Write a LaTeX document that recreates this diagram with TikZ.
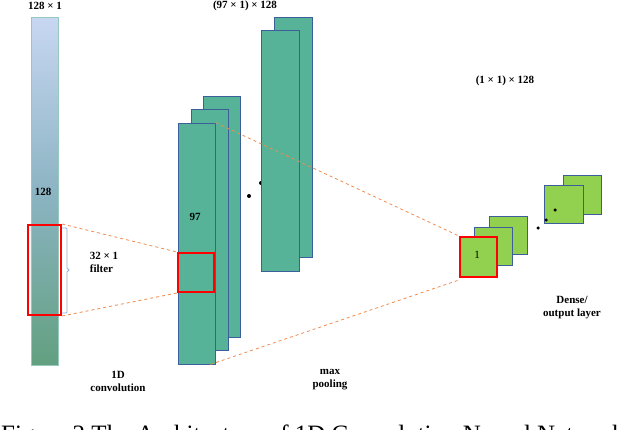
\documentclass[tikz,border=0pt]{standalone}
\usepackage{fontspec}
\setmainfont{Liberation Serif}
\definecolor{mapg}{RGB}{87,179,151}
\definecolor{mapb}{RGB}{60,95,155}
\definecolor{dg}{RGB}{146,208,80}
\definecolor{org}{RGB}{240,140,80}
\definecolor{brc}{RGB}{150,175,220}
\tikzset{
 map/.style={draw=mapb,fill=mapg,line width=0.8pt},
 dsq/.style={draw=mapb,fill=dg,line width=0.8pt},
 red box/.style={draw=red,line width=2pt},
 guide/.style={draw=org,dashed,line width=0.8pt},
 lbl/.style={font=\bfseries\fontsize{11}{13}\selectfont,align=center,inner sep=0pt},
 dotn/.style={circle,fill=black,inner sep=0pt,minimum size=4pt}
}
\begin{document}
\begin{tikzpicture}[x=1pt,y=-1pt]
\clip (0,0) rectangle (640,429);
\fill[white] (0,0) rectangle (640,429);
% input bar
\shade[top color={rgb,255:red,200;green,215;blue,242},bottom color={rgb,255:red,98;green,160;blue,128},middle color={rgb,255:red,140;green,180;blue,195}] (31,17) rectangle (58,365);
\draw[draw={rgb,255:red,150;green,200;blue,190},line width=0.6pt] (31,17) rectangle (58,365);
\node[lbl] (in) at (45,6) {128 × 1};
\node[lbl] (n128) at (43,192) {128};
\node[red box,minimum width=33pt,minimum height=90pt,inner sep=0pt] (filt) at (44.5,270) {};
\draw[brc,line width=0.8pt] (62,228) -- (66,228) -- (67,229) -- (67,268) -- (69,270) -- (67,272) -- (67,312) -- (66,313) -- (62,313);
\node[lbl,align=left] (ftxt) at (104,262) {32 × 1\\filter};
% conv maps
\node[map,minimum width=37pt,minimum height=241pt,inner sep=0pt] (c3) at (221.5,216.5) {};
\node[map,minimum width=37pt,minimum height=241pt,inner sep=0pt] (c2) at (209.5,229.5) {};
\node[map,minimum width=37pt,minimum height=241pt,inner sep=0pt] (c1) at (196.5,243.5) {};
\node[lbl] (n97) at (195,217) {97};
\node[red box,minimum width=36pt,minimum height=39pt,inner sep=0pt] (cr) at (196,272.5) {};
\draw[guide] (filt.north east) -- (cr.north west);
\draw[guide] (filt.south east) -- (cr.south west);
% dots
\node[dotn] (d1) at (249,196) {};
\node[dotn] (d2) at (261,183) {};
% pool maps
\node[map,minimum width=38pt,minimum height=240pt,inner sep=0pt] (p2) at (293,137) {};
\node[map,minimum width=38pt,minimum height=241pt,inner sep=0pt] (p1) at (280,150.5) {};
\node[lbl] (pt) at (245,6) {(97 × 1) × 128};
% dense
\node[dsq,minimum width=38pt,minimum height=38pt,inner sep=0pt] (s3) at (508,235) {};
\node[dsq,minimum width=38pt,minimum height=38pt,inner sep=0pt] (s2) at (493,246) {};
\node[dsq,draw=red,line width=2pt,minimum width=37pt,minimum height=40pt,inner sep=0pt] (s1) at (478.5,257) {};
\node[lbl,font=\fontsize{11}{13}\selectfont] (one) at (477,255) {1};
\node[dsq,minimum width=38pt,minimum height=39pt,inner sep=0pt] (s5) at (582,194.5) {};
\node[dsq,minimum width=39pt,minimum height=38pt,inner sep=0pt] (s4) at (563.5,204) {};
\node[dotn,minimum size=3.5pt] (d3) at (538,228) {};
\node[dotn,minimum size=3.5pt] (d4) at (546,220) {};
\node[dotn,minimum size=3.5pt] (d5) at (555,210) {};
\draw[guide] (c1.north east) -- (s1.north west);
\draw[guide] ([xshift=-5pt]c1.south east) -- ([yshift=-2pt]s1.south west);
\node[lbl] (dt) at (505,81) {(1 × 1) × 128};
\node[lbl] (dense) at (572,308) {Dense/\\output layer};
\node[lbl] (conv) at (118,381) {1D\\convolution};
\node[lbl] (pool) at (330,380) {max\\pooling};
\node[anchor=base west,inner sep=0pt,font=\fontsize{25}{28}\selectfont] (cap) at (1,442) {Figure 2 The Architecture of 1D Convolution Neural Network};
\end{tikzpicture}
\end{document}
